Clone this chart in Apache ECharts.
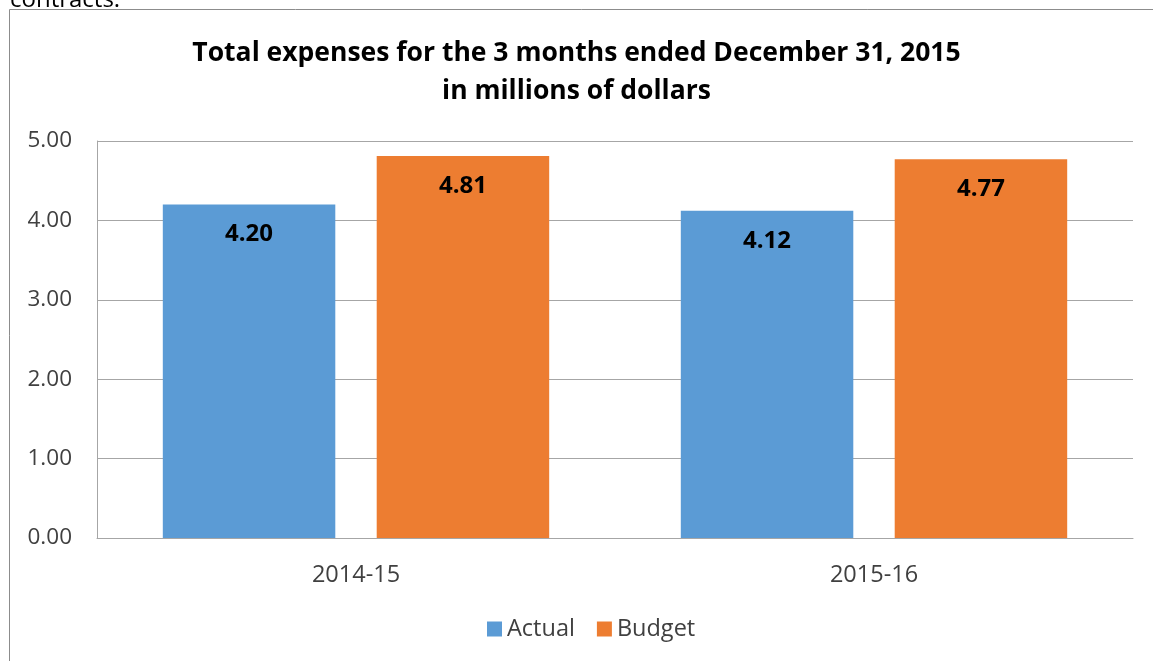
<!DOCTYPE html>
<html><head><meta charset="utf-8">
<script src="https://cdn.jsdelivr.net/npm/echarts@6/dist/echarts.min.js"></script>
<style>html,body{margin:0;padding:0;background:#fff}#c{width:1153px;height:661px}</style>
</head><body><div id="c"></div>
<script>
const categories = ['2014-15', '2015-16'];
const actual = [4.20, 4.12];
const budget = [4.81, 4.77];
const yTicks = [0, 1, 2, 3, 4, 5];

const FONT = '"Open Sans", "Liberation Sans", sans-serif';
const chart = echarts.init(document.getElementById('c'));
chart.setOption({
  animation: false,
  backgroundColor: '#fff',
  title: {
    text: 'Total expenses for the 3 months ended December 31, 2015\nin millions of dollars',
    left: 'center', top: 29,
    textStyle: { fontFamily: FONT, fontWeight: 'bold', fontSize: 26.5, color: '#000', lineHeight: 38 }
  },
  graphic: [
    { type: 'rect', shape: { x: 9.5, y: 9.5, width: 1200, height: 700 }, style: { fill: 'none', stroke: '#8c8c8c', lineWidth: 1 }, silent: true },
    { type: 'text', x: 10, y: 12, silent: true, style: { text: 'contracts.', fontFamily: FONT, fontSize: 24, fill: '#000', verticalAlign: 'bottom' } }
  ],
  legend: {
    bottom: 15, left: 482, itemWidth: 15, itemHeight: 15, itemGap: 22,
    icon: 'rect',
    textStyle: { fontFamily: FONT, fontSize: 23.5, color: '#404040' },
    data: ['Actual', 'Budget']
  },
  grid: { left: 97, right: 20, top: 141, bottom: 123, containLabel: false },
  xAxis: {
    type: 'category', data: categories,
    axisLine: { lineStyle: { color: '#a6a6a6' } },
    axisTick: { show: false },
    axisLabel: { fontFamily: FONT, fontSize: 23.5, color: '#404040', margin: 25 }
  },
  yAxis: {
    type: 'value', min: yTicks[0], max: yTicks[yTicks.length - 1], interval: 1,
    axisLine: { show: true, lineStyle: { color: '#a6a6a6' } },
    axisTick: { show: false },
    splitLine: { lineStyle: { color: '#a6a6a6' } },
    axisLabel: { fontFamily: FONT, fontSize: 22.5, color: '#404040', margin: 25, formatter: v => v.toFixed(2) }
  },
  series: [
    { name: 'Actual', type: 'bar', data: actual, barWidth: '33.3%', barGap: '24%',
      itemStyle: { color: '#5B9BD5' },
      label: { show: true, position: 'insideTop', distance: 18, formatter: p => p.value.toFixed(2),
        fontFamily: FONT, fontWeight: 'bold', fontSize: 24, color: '#000' } },
    { name: 'Budget', type: 'bar', data: budget, barWidth: '33.3%',
      itemStyle: { color: '#ED7D31' },
      label: { show: true, position: 'insideTop', distance: 18, formatter: p => p.value.toFixed(2),
        fontFamily: FONT, fontWeight: 'bold', fontSize: 24, color: '#000' } }
  ]
});
</script></body></html>
